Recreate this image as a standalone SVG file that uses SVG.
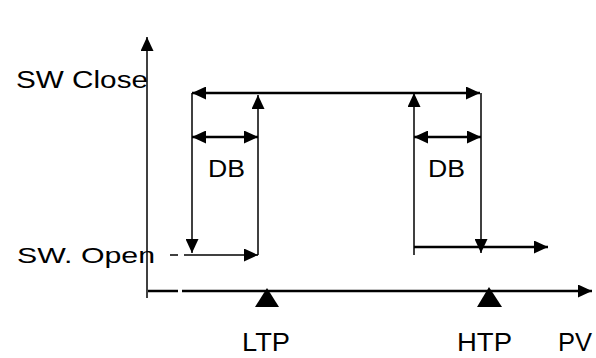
<svg xmlns="http://www.w3.org/2000/svg" width="596" height="358" viewBox="0 0 596 358">
<style>
.t{font-family:"Liberation Sans",Arial,sans-serif;fill:#000}
.thin{stroke:#000;stroke-width:1.5;fill:none}
.thick{stroke:#000;stroke-width:2.5;fill:none}
</style>
<defs>
<marker id="ah" markerUnits="userSpaceOnUse" markerWidth="14" markerHeight="13" refX="14" refY="6.5" orient="auto-start-reverse" viewBox="0 0 14 13">
<path d="M0,0 L14,6.5 L0,13 z" fill="#000"/>
</marker>
</defs>
<rect width="596" height="358" fill="#fff"/>
<g id="axes">
<line class="thin" x1="147" y1="298" x2="147" y2="37" marker-end="url(#ah)"/>
<line class="thick" x1="148" y1="291" x2="178" y2="291"/>
<line class="thick" x1="182" y1="291" x2="592" y2="291" marker-end="url(#ah)"/>
</g>
<g id="connectors">
<line class="thick" x1="192" y1="93" x2="480" y2="93" marker-start="url(#ah)" marker-end="url(#ah)"/>
<line class="thin" x1="192" y1="93" x2="192" y2="253" marker-end="url(#ah)"/>
<line class="thin" x1="258" y1="255" x2="258" y2="95" marker-end="url(#ah)"/>
<line class="thick" x1="192" y1="137" x2="258" y2="137" marker-start="url(#ah)" marker-end="url(#ah)"/>
<line class="thin" x1="170" y1="255" x2="178" y2="255"/>
<line class="thin" x1="184" y1="255" x2="258" y2="255" marker-end="url(#ah)"/>
<line class="thin" x1="414" y1="255" x2="414" y2="93" marker-end="url(#ah)"/>
<line class="thin" x1="481" y1="93" x2="481" y2="253" marker-end="url(#ah)"/>
<line class="thick" x1="414" y1="137" x2="481" y2="137" marker-start="url(#ah)" marker-end="url(#ah)"/>
<line class="thick" x1="414" y1="247" x2="548" y2="247" marker-end="url(#ah)"/>
</g>
<g id="ltp-marker"><polygon points="267,288 255,307 279,307" fill="#000"/></g>
<g id="htp-marker"><polygon points="489,287 477,307 502,307" fill="#000"/></g>
<g id="labels">
<text class="t" x="16" y="88" font-size="23" textLength="132" lengthAdjust="spacingAndGlyphs">SW  Close</text>
<text class="t" x="17" y="263" font-size="22" textLength="138" lengthAdjust="spacingAndGlyphs">SW.  Open</text>
<text class="t" x="208" y="177" font-size="24" textLength="37" lengthAdjust="spacingAndGlyphs">DB</text>
<text class="t" x="428" y="177" font-size="24" textLength="37" lengthAdjust="spacingAndGlyphs">DB</text>
<text class="t" x="242" y="351" font-size="26" textLength="48" lengthAdjust="spacingAndGlyphs">LTP</text>
<text class="t" x="457" y="351" font-size="26" textLength="55" lengthAdjust="spacingAndGlyphs">HTP</text>
<text class="t" x="558" y="351" font-size="26" textLength="34" lengthAdjust="spacingAndGlyphs">PV</text>
</g>
</svg>
